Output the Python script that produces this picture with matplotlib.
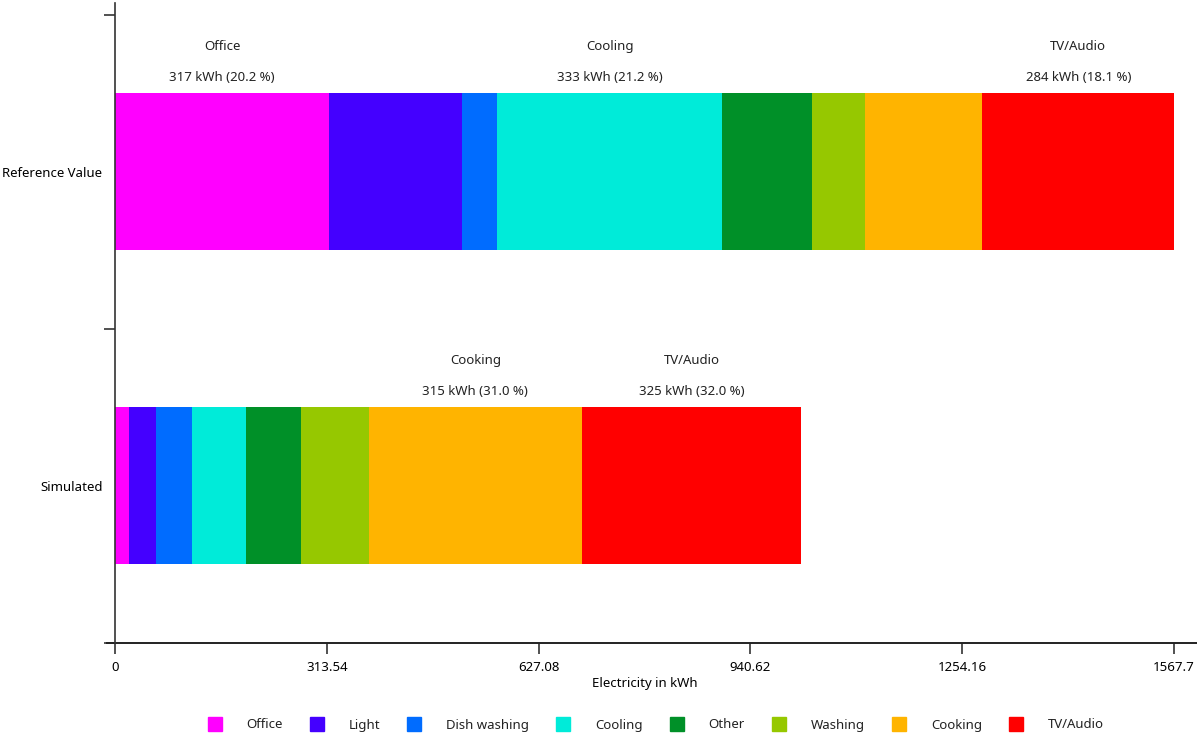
import matplotlib
matplotlib.use("Agg")
import matplotlib.pyplot as plt
from matplotlib.lines import Line2D

plt.rcParams['font.family'] = ['Noto Sans', 'DejaVu Sans']
plt.rcParams['font.size'] = 9.5
plt.rcParams['text.color'] = '#222222'

# data
rows = ["Reference Value", "Simulated"]
categories = ["Office", "Light", "Dish washing", "Cooling", "Other", "Washing", "Cooking", "TV/Audio"]
reference = [317, 197, 52, 333, 133, 78, 174, 284]
simulated = [21, 40, 53, 80, 81, 101, 315, 325]
colors = ["#ff00ff", "#4400ff", "#006cff", "#00ebd9", "#009028", "#96c800", "#ffb400", "#ff0000"]
x_max = 1567.7
x_ticks = [0, 313.54, 627.08, 940.62, 1254.16, 1567.7]
x_tick_labels = ["0", "313.54", "627.08", "940.62", "1254.16", "1567.7"]

fig = plt.figure(figsize=(11.97, 7.35), dpi=100)
ax = fig.add_axes([115 / 1197, 1 - 643 / 735, (1174 - 115) / 1197, 640 / 735])

series = [reference, simulated]
y_pos = [0.5, 1.5]
for y, vals in zip(y_pos, series):
    total = sum(vals)
    left = 0
    for name, v, c in zip(categories, vals, colors):
        ax.barh(y, v, left=left, height=0.5, color=c, linewidth=0)
        share = v / total * 100
        # only the big parts get a label
        if share > 15:
            cx = left + v / 2
            ax.text(cx, y - 0.40, name, ha='center', va='center')
            ax.text(cx, y - 0.30, f"{v:.0f} kWh ({share:.1f} %)", ha='center', va='center')
        left += v

ax.set_xlim(0, x_max)
ax.set_ylim(2, -0.038)

# y axis: labels in the middle, tick marks between rows
ax.set_yticks(y_pos)
ax.set_yticklabels(rows)
ax.set_yticks([0, 1, 2], minor=True)
ax.tick_params(axis='y', which='major', length=0, pad=9)
ax.tick_params(axis='y', which='minor', length=8, width=1.2, color='#333333')

ax.set_xticks(x_ticks)
ax.set_xticklabels(x_tick_labels)
ax.tick_params(axis='x', length=8, width=1.2, color='#333333', pad=5)
ax.set_xlabel("Electricity in kWh", labelpad=2)

for s in ['top', 'right', 'bottom']:
    ax.spines[s].set_visible(False)
ax.spines['left'].set_color('#333333')
ax.spines['left'].set_linewidth(1.2)

# x axis line runs a bit past both ends
ax.add_line(Line2D([-0.008, 1.03], [0, 0], transform=ax.transAxes, color='#222222',
                   linewidth=1.4, clip_on=False))

handles = [Line2D([], [], linestyle='none', marker='s', markersize=10, color=c) for c in colors]
fig.legend(handles, categories, loc='center', ncol=8, frameon=False,
           bbox_to_anchor=(656 / 1197, 1 - 725 / 735), handlelength=1.0,
           handletextpad=1.9, columnspacing=2.1)

fig.savefig("out.png", dpi=100)
